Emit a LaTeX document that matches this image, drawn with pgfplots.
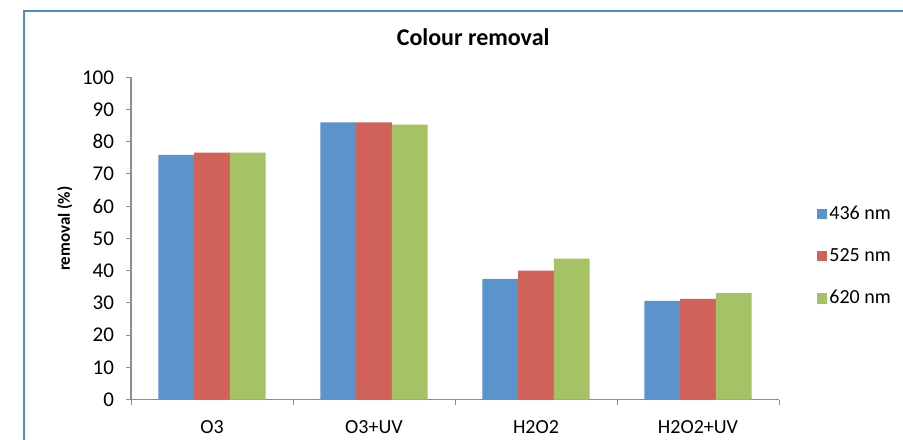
\documentclass[border=0pt]{standalone}
\usepackage{fontspec}
\setmainfont{Carlito}
\usepackage{pgfplots}
\pgfplotsset{compat=1.18}
\definecolor{cblue}{HTML}{5B93CC}
\definecolor{cred}{HTML}{D0625A}
\definecolor{cgreen}{HTML}{A5C264}
\definecolor{framec}{HTML}{4A90C2}
\definecolor{axgray}{HTML}{8C8C8C}
\begin{document}
\begin{tikzpicture}
\useasboundingbox (0,0) rectangle (451.5pt,219.5pt);
\clip (0,0) rectangle (451.5pt,219.5pt);
\fill[white] (0,0) rectangle (451.5pt,219.5pt);
\draw[framec, line width=0.8pt] (11.85pt,-10pt) -- (11.85pt,213.85pt) -- (470pt,213.85pt);
\begin{axis}[
  at={(65.5pt,19.75pt)}, anchor=south west,
  scale only axis, width=324pt, height=161.1pt,
  ybar=0pt, bar width=17.9pt,
  xmin=-0.5, xmax=3.5, ymin=0, ymax=100,
  xtick={0,1,2,3}, xticklabels={O3,O3+UV,H2O2,H2O2+UV},
  minor xtick={-0.5,0.5,1.5,2.5,3.5},
  ytick={0,10,...,100},
  tick align=outside,
  axis x line*=bottom, axis y line*=left,
  axis line style={axgray, line width=0.6pt, -},
  every tick/.style={axgray, line width=0.5pt},
  major tick length=2.5pt, minor tick length=2.5pt,
  major x tick style={draw=none},
  tick label style={font=\fontsize{10}{12}\selectfont, /pgf/number format/assume math mode=true},
  xticklabel style={yshift=-4.5pt},
  yticklabel style={xshift=-2.5pt, font=\fontsize{10.5}{12}\selectfont},
  title={Colour removal},
  title style={at={(axis description cs:0.528,1.124)}, anchor=center, yshift=-6pt, font=\fontsize{12}{14}\selectfont\bfseries},
  ylabel={removal (\%)},
  ylabel style={at={(axis description cs:-0.102,0.53)}, anchor=center, font=\fontsize{8.5}{10}\selectfont\bfseries},
  legend style={at={(axis description cs:1.058,0.445)}, anchor=west, draw=none, fill=none, inner sep=0pt, row sep=11pt, font=\fontsize{10}{12}\selectfont, nodes={inner sep=1pt}},
  legend cell align=left,
  every axis plot/.append style={legend image code/.code={\fill[#1] (0pt,-2.6pt) rectangle (5.2pt,2.6pt);}},
]
\addplot[fill=cblue, draw=none] coordinates {(0,75.9) (1,86.0) (2,37.4) (3,30.6)};
\addplot[fill=cred, draw=none] coordinates {(0,76.6) (1,86.0) (2,40.0) (3,31.2)};
\addplot[fill=cgreen, draw=none] coordinates {(0,76.6) (1,85.3) (2,43.7) (3,33.0)};
\legend{436 nm,525 nm,620 nm}
\end{axis}
\end{tikzpicture}
\end{document}
